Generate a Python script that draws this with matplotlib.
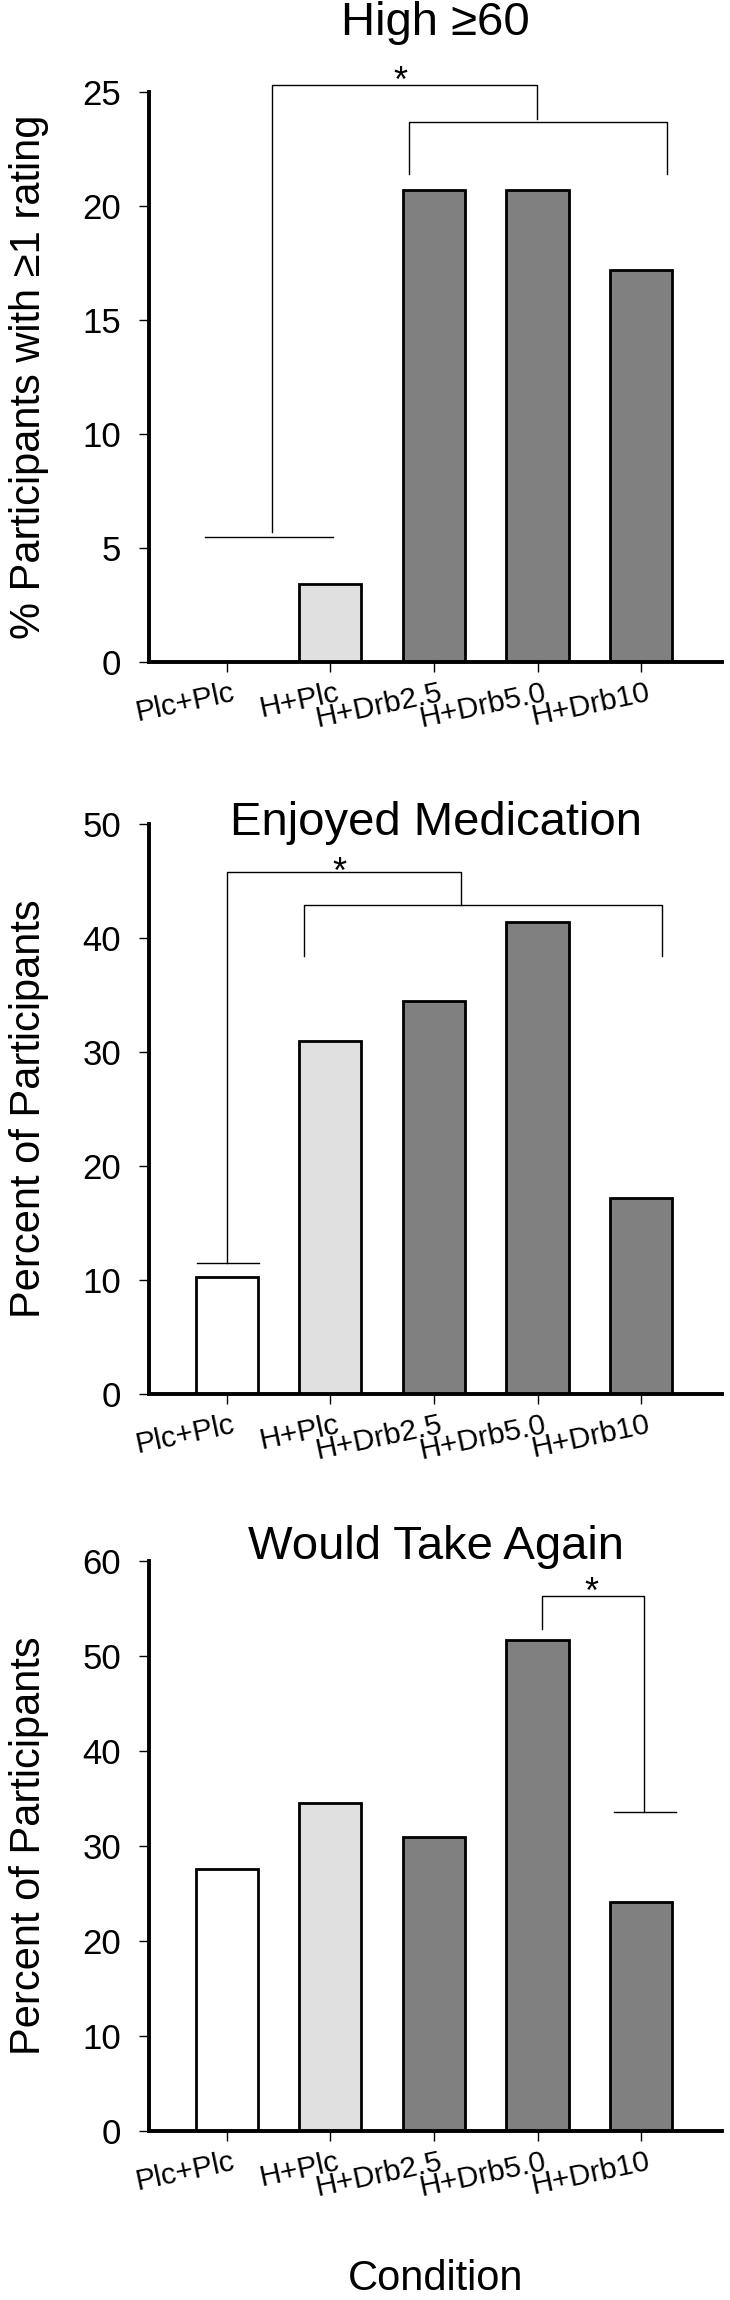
import matplotlib.pyplot as plt
import matplotlib.transforms as mtransforms
import numpy as np

# data (percent of 29 participants)
conditions = ["Plc+Plc", "H+Plc", "H+Drb2.5", "H+Drb5.0", "H+Drb10"]
high60 = [0, 3.4, 20.7, 20.7, 17.2]
enjoyed = [10.3, 31.0, 34.5, 41.4, 17.2]
take_again = [27.6, 34.5, 31.0, 51.7, 24.1]
bar_colors = ["white", "#e0e0e0", "#808080", "#808080", "#808080"]

# significance brackets: (xs, ys) in data units, plus star position
brackets1 = [([-0.21, 1.03], [5.5, 5.5]),
             ([0.44, 0.44, 2.99, 2.99], [5.7, 25.3, 25.3, 23.8]),
             ([1.76, 1.76, 4.25, 4.25], [21.4, 23.7, 23.7, 21.4])]
star1 = (1.68, 25.9)
brackets2 = [([-0.29, 0.31], [11.5, 11.5]),
             ([0.0, 0.0, 2.26, 2.26], [11.5, 45.8, 45.8, 42.9]),
             ([0.75, 0.75, 4.2, 4.2], [38.4, 42.9, 42.9, 38.4])]
star2 = (1.09, 46.7)
brackets3 = [([3.74, 4.34], [33.6, 33.6]),
             ([3.04, 3.04, 4.03, 4.03], [52.8, 56.3, 56.3, 33.6])]
star3 = (3.52, 57.8)

plt.rcParams["font.family"] = ["Liberation Sans", "DejaVu Sans"]

fig = plt.figure(figsize=(7.3, 23), dpi=100)

panels = [
    (high60, "High \u226560", 1.10, "% Participants with \u22651 rating", 25, 5, brackets1, star1),
    (enjoyed, "Enjoyed Medication", 0.981, "Percent of Participants", 50, 10, brackets2, star2),
    (take_again, "Would Take Again", 1.004, "Percent of Participants", 60, 10, brackets3, star3),
]
bottoms = [1 - 662 / 2300, 1 - 1394 / 2300, 1 - 2131 / 2300]

x = np.arange(len(conditions))
for i, (vals, title, ty, ylab, ymax, step, brk, star) in enumerate(panels):
    ax = fig.add_axes([149 / 730, bottoms[i], 573 / 730, 570 / 2300])
    ax.bar(x, vals, width=0.6, color=bar_colors, edgecolor="black", linewidth=2)
    ax.set_xlim(-0.75, 4.78)
    ax.set_ylim(0, ymax)
    ax.set_yticks(np.arange(0, ymax + 1, step))
    ax.spines["top"].set_visible(False)
    ax.spines["right"].set_visible(False)
    ax.spines["left"].set_linewidth(2.8)
    ax.spines["bottom"].set_linewidth(2.8)
    ax.tick_params(axis="y", direction="out", length=7.2, width=1, labelsize=25, pad=13)
    ax.tick_params(axis="x", direction="out", length=7.2, width=1, pad=5)
    ax.set_xticks(x, conditions, fontsize=21.5, rotation=12, ha="right", rotation_mode="anchor")
    shift = mtransforms.ScaledTranslation(0.05, 0, fig.dpi_scale_trans)
    for lab in ax.get_xticklabels():
        lab.set_transform(lab.get_transform() + shift)

    ax.set_title(title, fontsize=34, y=ty, pad=0, va="baseline")
    ax.set_ylabel(ylab, fontsize=30)
    ax.yaxis.set_label_coords(-0.209, 0.5)
    ax.yaxis.label.set_va("center")

    for xs, ys in brk:
        ax.plot(xs, ys, color="black", linewidth=1, clip_on=False)
    ax.annotate("*", star, xytext=(0, -0.58 * 26), textcoords="offset points",
                ha="center", va="baseline", fontsize=26, annotation_clip=False)

    if i == 2:
        ax.set_xlabel("Condition", fontsize=30)
        ax.xaxis.set_label_coords(0.5, -0.279)
        ax.xaxis.label.set_va("baseline")

plt.savefig("out.png", dpi=100)
